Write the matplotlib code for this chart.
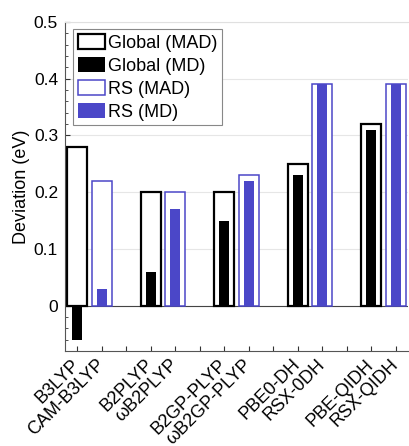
import numpy as np
import matplotlib
matplotlib.use('Agg')
import matplotlib.pyplot as plt

plt.rcParams['font.family'] = ['Liberation Sans', 'DejaVu Sans']

# values
pairs = ['B3LYP / CAM-B3LYP', 'B2PLYP / wB2PLYP', 'B2GP-PLYP / wB2GP-PLYP',
         'PBE0-DH / RSX-0DH', 'PBE-QIDH / RSX-QIDH']
global_mad = [0.28, 0.20, 0.20, 0.25, 0.32]
global_md = [-0.06, 0.06, 0.15, 0.23, 0.31]
rs_mad = [0.22, 0.20, 0.23, 0.39, 0.39]
rs_md = [0.03, 0.17, 0.22, 0.39, 0.39]
tick_labels = ['B3LYP', 'CAM-B3LYP', '', 'B2PLYP', '\u03c9B2PLYP', '',
               'B2GP-PLYP', '\u03c9B2GP-PLYP', '', 'PBE0-DH', 'RSX-0DH', '',
               'PBE-QIDH', 'RSX-QIDH']

blue = '#4B47C8'
fs = 13

fig = plt.figure(figsize=(4.09, 4.46), dpi=100)
ax = fig.add_axes([65/409, 1-351/446, 343/409, 329/446])

xg = np.arange(len(pairs)) * 3 + 1
xr = xg + 1

ax.axhline(0, color='#444444', lw=0.8, zorder=1)
b1 = ax.bar(xg, global_mad, 0.8, facecolor='white', edgecolor='black', lw=1.6, zorder=2,
            label='Global (MAD)')
b2 = ax.bar(xg, global_md, 0.4, color='black', zorder=3, label='Global (MD)')
b3 = ax.bar(xr, rs_mad, 0.8, facecolor='white', edgecolor=blue, lw=1.1, zorder=2,
            label='RS (MAD)')
b4 = ax.bar(xr, rs_md, 0.4, color=blue, zorder=3, label='RS (MD)')

ax.set_xlim(0.5, 14.5)
ax.set_ylim(-0.08, 0.5)
ax.set_yticks([0, 0.1, 0.2, 0.3, 0.4, 0.5])
ax.set_yticklabels(['0', '0.1', '0.2', '0.3', '0.4', '0.5'])
ax.set_yticks(np.arange(-0.06, 0.5, 0.02), minor=True)
ax.set_xticks(np.arange(1, 15))
ax.set_xticklabels(tick_labels, rotation=45, ha='right', rotation_mode='anchor',
                   va='center')
ax.tick_params(axis='both', direction='in', labelsize=fs, colors='#333333',
               labelcolor='black')
ax.tick_params(axis='y', labelsize=12.5)
ax.tick_params(axis='x', length=3.5, pad=8)
ax.tick_params(axis='y', which='major', length=3.5, pad=5)
ax.tick_params(axis='y', which='minor', length=2, direction='in', colors='#333333')

ax.yaxis.grid(True, color='#e6e6e6', lw=0.8, zorder=0)
ax.set_axisbelow(True)
ax.spines['right'].set_visible(False)
ax.spines['top'].set_color('#e0e0e0')
ax.spines['left'].set_color('#555555')
ax.spines['bottom'].set_color('#555555')

ax.set_ylabel('Deviation (eV)', fontsize=fs, labelpad=3)

leg = ax.legend(handles=[b1, b2, b3, b4], loc='upper left', bbox_to_anchor=(0.024, 0.978),
                fontsize=fs, fancybox=False, framealpha=1, edgecolor='#888888',
                handlelength=1.5, handleheight=0.95, handletextpad=0.2,
                labelspacing=0.28, borderpad=0.25, borderaxespad=0)
leg.get_frame().set_linewidth(0.8)

fig.savefig('out.png', dpi=100)
